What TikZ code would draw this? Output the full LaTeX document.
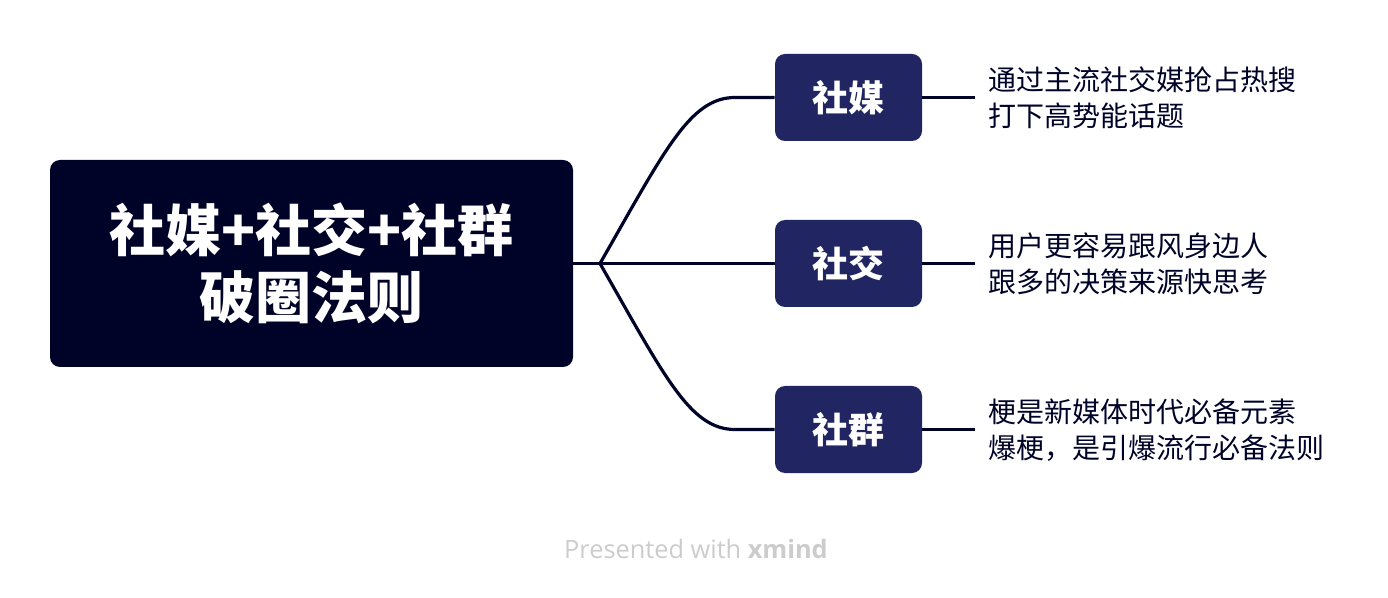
\documentclass[tikz,border=0pt]{standalone}
\usepackage{fontspec}
\setmainfont{Noto Sans CJK SC}
\newfontfamily\wmfont{Open Sans}
\usetikzlibrary{positioning}

\definecolor{rootblue}{HTML}{000328}
\definecolor{topicblue}{HTML}{212561}
\definecolor{wmgray}{HTML}{CCCCCC}

\tikzset{
  rootbox/.style={fill=rootblue, text=white, rounded corners=7.5pt,
    minimum width=392.25pt, minimum height=155.25pt, align=center,
    font=\fontsize{42}{50}\selectfont\bfseries, inner sep=0pt},
  topicbox/.style={fill=topicblue, text=white, rounded corners=7.5pt,
    minimum width=110.25pt, minimum height=65.25pt,
    font=\fontsize{27}{30}\selectfont\bfseries, inner sep=0pt},
  notetext/.style={anchor=west, align=left, text=rootblue, inner sep=0pt,
    font=\fontsize{21}{27}\selectfont},
  branch/.style={draw=rootblue, line width=2.4pt}
}

\begin{document}
\begin{tikzpicture}[x=0.75pt, y=-0.75pt]
  \useasboundingbox (0,0) rectangle (1388,598);
  % root and topics
  \node[rootbox] (root) at (311.5,263.5) {社媒+社交+社群\\破圈法则};
  \node[topicbox] (media) at (848.5,97.5) {社媒};
  \node[topicbox] (social) at (848.5,263.5) {社交};
  \node[topicbox] (group) at (848.5,429.5) {社群};
  % notes
  \node[notetext] (medianote) at (988,98) {通过主流社交媒抢占热搜\\打下高势能话题};
  \node[notetext] (socialnote) at (988,264) {用户更容易跟风身边人\\跟多的决策来源快思考};
  \node[notetext] (groupnote) at (988,430) {梗是新媒体时代必备元素\\爆梗，是引爆流行必备法则};
  % connectors
  \coordinate (hub) at (600,263.5);
  \coordinate (mediaend) at (735,97.5);
  \coordinate (groupend) at (735,429.5);
  \draw[branch] (root.east) -- (hub);
  \draw[branch] (hub) .. controls (665,150) and (690,97.5) .. (mediaend) -- (media.west);
  \draw[branch] (hub) -- (social.west);
  \draw[branch] (hub) .. controls (665,377) and (690,429.5) .. (groupend) -- (group.west);
  \foreach \t in {media,social,group}{
    \draw[branch] (\t.east) -- ++(53,0);
  }
  % watermark
  \node[text=wmgray, font=\wmfont\fontsize{19}{22}\selectfont] (mark) at (696,549)
    {Presented with \textbf{xmind}};
\end{tikzpicture}
\end{document}
